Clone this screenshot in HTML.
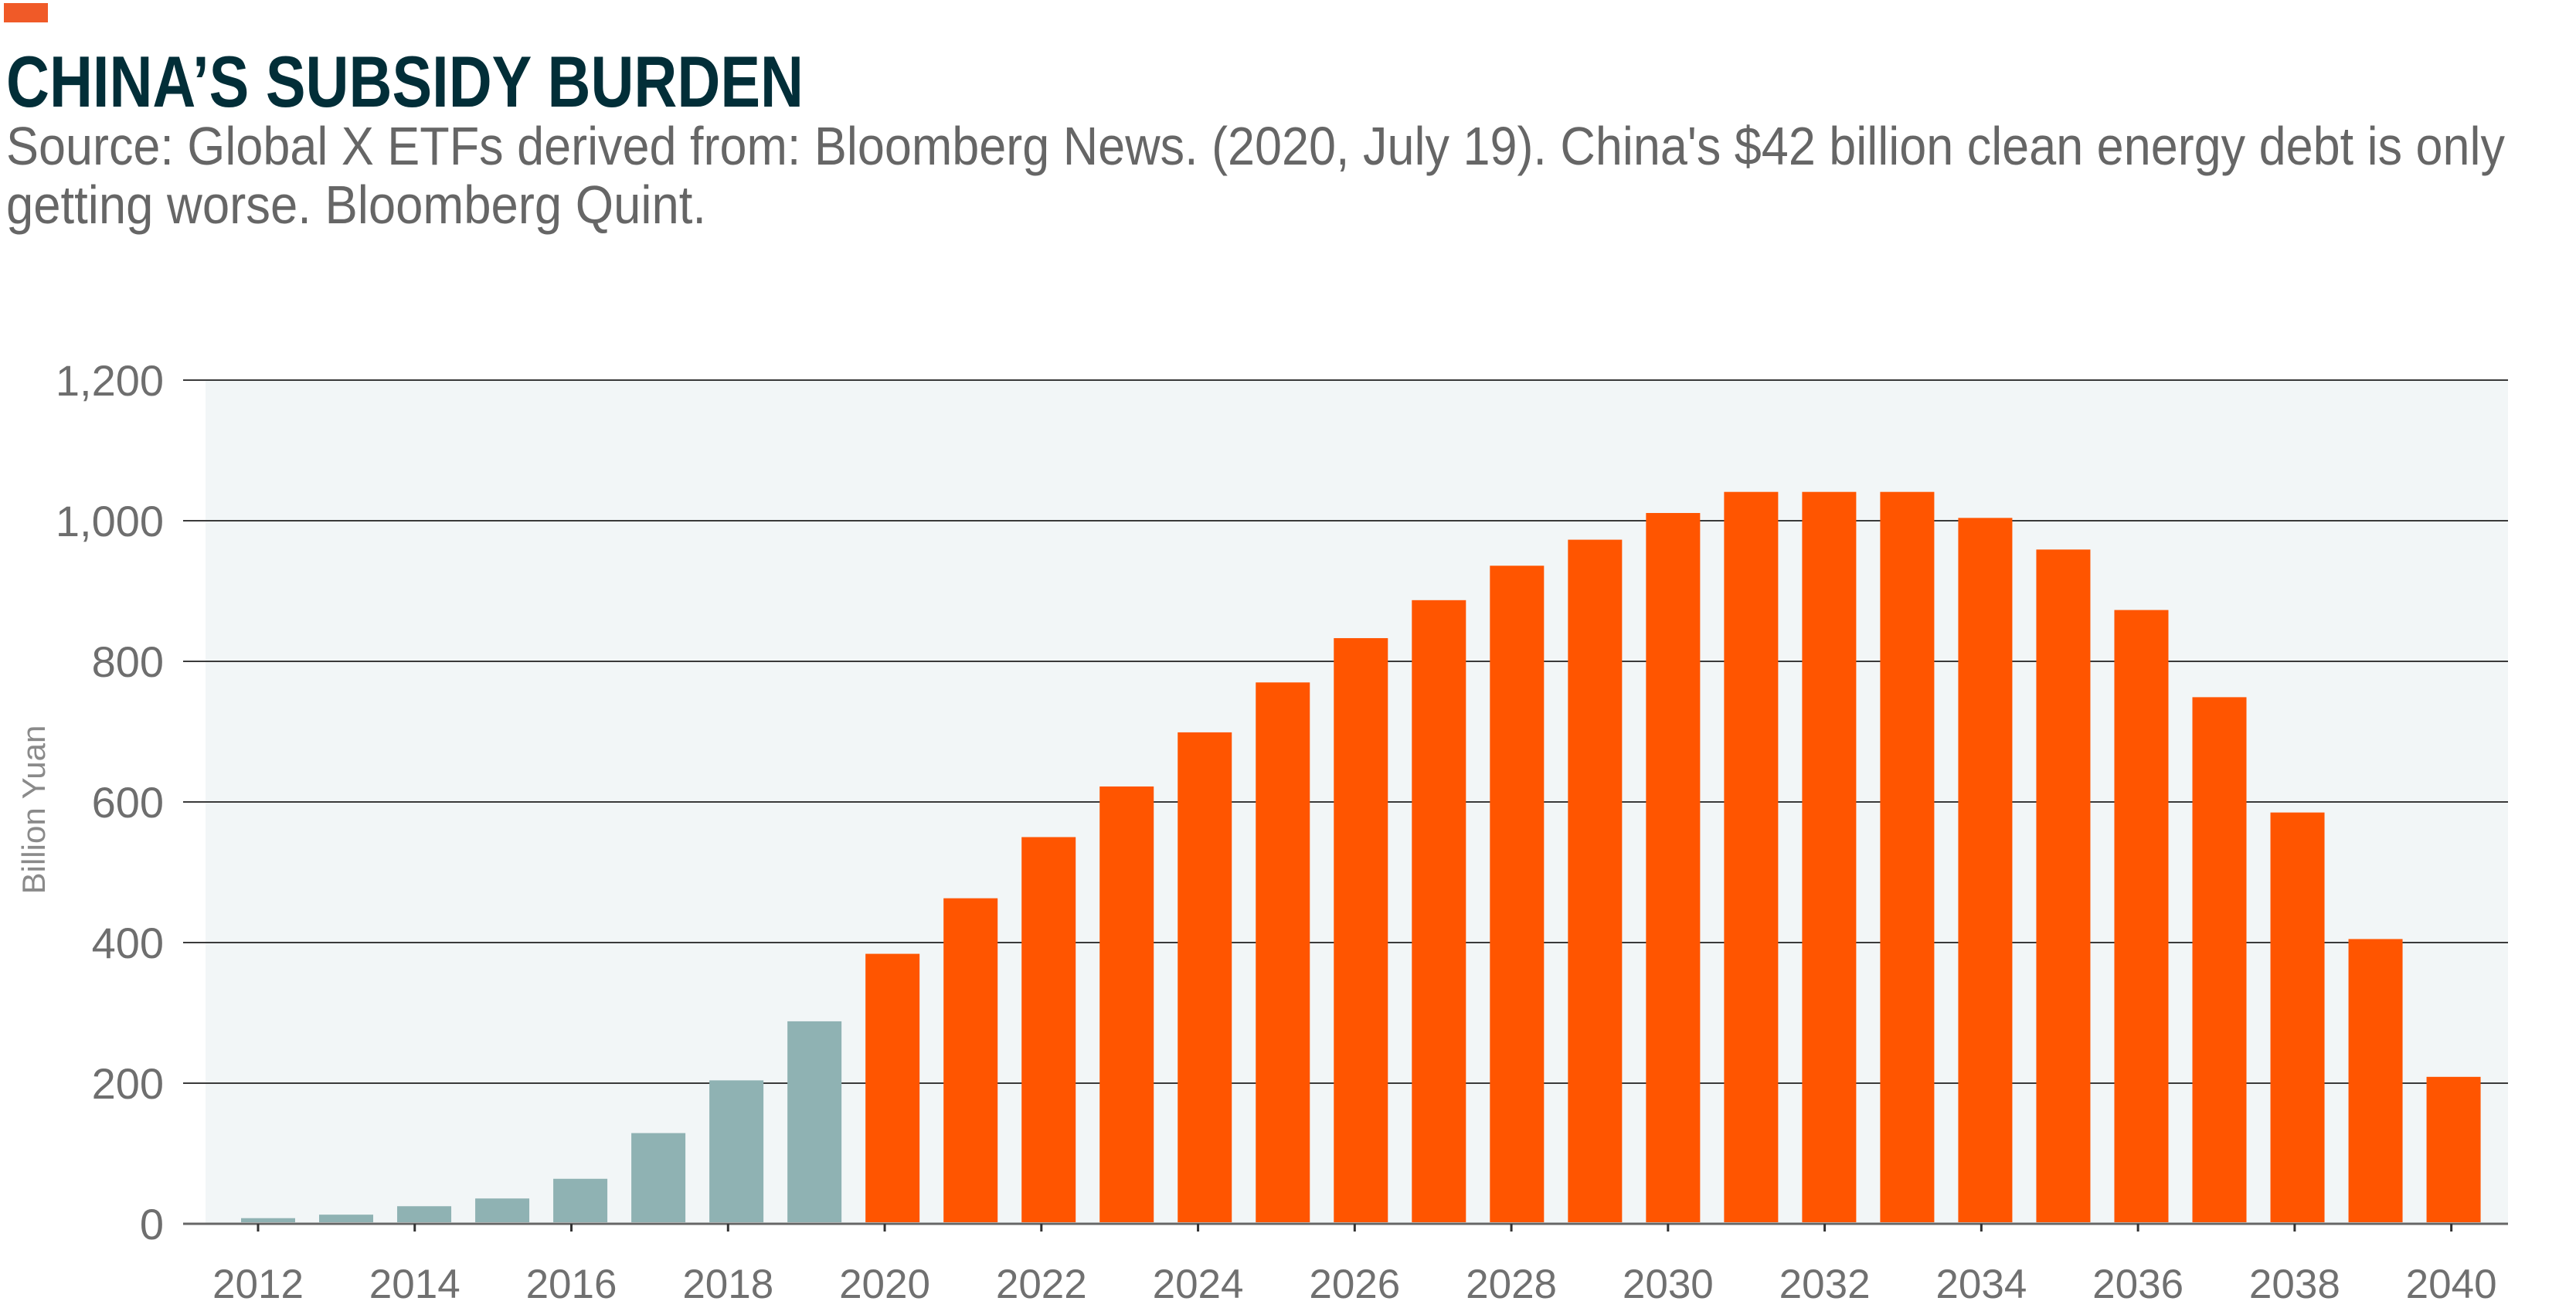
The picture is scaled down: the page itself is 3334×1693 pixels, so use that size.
<!DOCTYPE html>
<html><head><meta charset="utf-8"><style>
html,body{margin:0;padding:0;background:#fff;}
svg{display:block;font-family:"Liberation Sans Narrow","Liberation Sans",sans-serif;}
</style></head><body>
<svg id="chart" width="3334" height="1693" viewBox="0 0 3334 1693" xmlns="http://www.w3.org/2000/svg">
<rect x="5" y="4" width="57" height="25" fill="#f05a28"/>
<text x="8" y="138" font-size="94" font-weight="bold" fill="#022e38" textLength="1032" lengthAdjust="spacingAndGlyphs">CHINA’S SUBSIDY BURDEN</text>
<text x="8" y="213" font-size="70" fill="#666" textLength="3234" lengthAdjust="spacingAndGlyphs">Source: Global X ETFs derived from: Bloomberg News. (2020, July 19). China's $42 billion clean energy debt is only</text>
<text x="8" y="289" font-size="70" fill="#666" textLength="906" lengthAdjust="spacingAndGlyphs">getting worse. Bloomberg Quint.</text>
<rect x="266" y="492" width="2980" height="1092" fill="#f2f6f7"/>
<g id="grid"></g>
<g id="bars"></g>
<g id="axes"></g>
<text transform="translate(58,1048) rotate(-90)" text-anchor="middle" font-size="42" fill="#8a8a8a">Billion Yuan</text>
</svg>
<script>
const years = [2012,2013,2014,2015,2016,2017,2018,2019,2020,2021,2022,2023,2024,2025,2026,2027,2028,2029,2030,2031,2032,2033,2034,2035,2036,2037,2038,2039,2040];
const values = [8,13,25,36,64,129,204,288,384,463,550,622,699,770,833,887,936,973,1011,1041,1041,1041,1004,959,873,749,585,405,209];
const historicalLastYear = 2019;
const yTicks = [0,200,400,600,800,1000,1200];
const yTickLabels = ["0","200","400","600","800","1,000","1,200"];
const xTickYears = [2012,2014,2016,2018,2020,2022,2024,2026,2028,2030,2032,2034,2036,2038,2040];

const NS="http://www.w3.org/2000/svg";
const y0=1584, yTop=492, vMax=1200;
const yScale=v=>y0-(v/vMax)*(y0-yTop);
const barX=yr=>347+(yr-2012)*101.02;
const tickX=yr=>334+(yr-2012)*101.38;
function mk(tag,attrs,parent){const e=document.createElementNS(NS,tag);for(const k in attrs)e.setAttribute(k,attrs[k]);parent.appendChild(e);return e;}
const grid=document.getElementById('grid'),bars=document.getElementById('bars'),axes=document.getElementById('axes');
yTicks.forEach((v,i)=>{
  if(v>0){const l=mk('line',{x1:237,x2:3246,y1:yScale(v),y2:yScale(v),stroke:'#3a3a3a','stroke-width':2},grid);
  
  }
  const t=mk('text',{x:212,y:yScale(v)+20,'text-anchor':'end','font-size':56,fill:'#6e6e6e'},axes);
  t.textContent=yTickLabels[i];
  
  
});
years.forEach((yr,i)=>{
  const h=y0-yScale(values[i]);
  const r=mk('rect',{x:barX(yr)-35,y:yScale(values[i]),width:70,height:Math.max(0,h-2),fill:yr<=historicalLastYear?'#8fb2b3':'#ff5500'},bars);
  
  
});
const ax=mk('line',{x1:237,x2:3246,y1:y0,y2:y0,stroke:'#666','stroke-width':3},axes);


xTickYears.forEach(yr=>{
  const tk=mk('line',{x1:tickX(yr),x2:tickX(yr),y1:y0,y2:y0+10,stroke:'#333','stroke-width':3},axes);
  
  
  const t=mk('text',{x:tickX(yr),y:1680,'text-anchor':'middle','font-size':53,fill:'#707070'},axes);
  t.textContent=String(yr);
  
  
});
</script>
</body></html>
